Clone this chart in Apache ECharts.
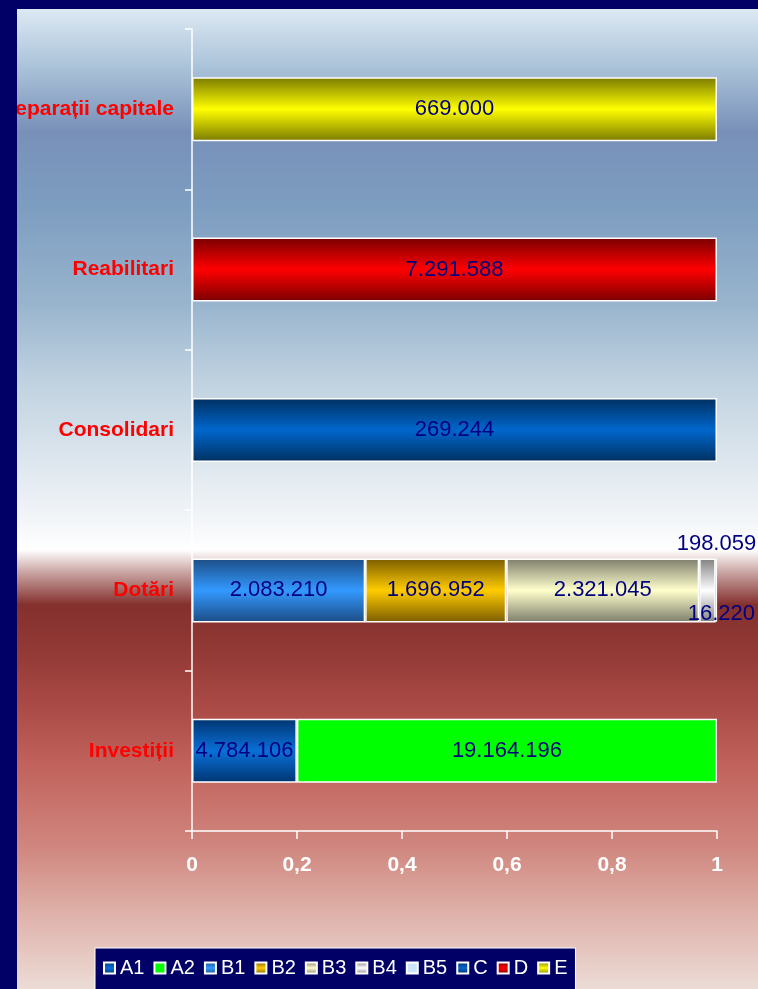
<!DOCTYPE html>
<html>
<head>
<meta charset="utf-8">
<script src="https://cdn.jsdelivr.net/npm/echarts@6/dist/echarts.min.js"></script>
<style>
  html, body { margin: 0; padding: 0; background: #000066; }
  #chart { width: 758px; height: 989px; }
</style>
</head>
<body>
<div id="chart"></div>
<script>
// categories, bottom to top
const categories = ["Investiții", "Dotări", "Consolidari", "Reabilitari", "Reparații capitale"];
const seriesNames = ["A1", "A2", "B1", "B2", "B3", "B4", "B5", "C", "D", "E"];

// raw values per series (one slot per category)
const A1 = [4784106, null, null, null, null];
const A2 = [19164196, null, null, null, null];
const B1 = [null, 2083210, null, null, null];
const B2 = [null, 1696952, null, null, null];
const B3 = [null, 2321045, null, null, null];
const B4 = [null, 198059, null, null, null];
const B5 = [null, 16220, null, null, null];
const C = [null, null, 269244, null, null];
const D = [null, null, null, 7291588, null];
const E = [null, null, null, null, 669000];

const xTicks = [0, 0.2, 0.4, 0.6, 0.8, 1];

const rawData = [A1, A2, B1, B2, B3, B4, B5, C, D, E];

// gradient stops: edge colour, middle colour
const barColors = [
  ["#003570", "#0a6fd8"],
  ["#00ff00", "#00ff00"],
  ["#1c4c84", "#3399ff"],
  ["#7a5c00", "#ffcc00"],
  ["#7d7d6c", "#ffffcc"],
  ["#808080", "#ffffff"],
  ["#cce8ff", "#cce8ff"],
  ["#003060", "#0066cc"],
  ["#7a0000", "#ff0000"],
  ["#7a7a00", "#ffff00"]
];

// totals per category for the 100% stack
const totals = categories.map((c, i) =>
  rawData.reduce((s, arr) => s + (arr[i] || 0), 0)
);

const fmt = (v) => String(v).replace(/\B(?=(\d{3})+(?!\d))/g, ".");

const grad = (edge, mid) => ({
  type: "linear", x: 0, y: 0, x2: 0, y2: 1,
  colorStops: [
    { offset: 0, color: edge },
    { offset: 0.5, color: mid },
    { offset: 1, color: edge }
  ]
});

const labelFont = { fontFamily: "Liberation Sans, Arial, sans-serif", fontSize: 22, color: "#000080" };

const series = seriesNames.map((name, k) => {
  const label = Object.assign({
    show: true,
    position: "inside",
    formatter: (p) => fmt(rawData[k][p.dataIndex])
  }, labelFont);
  if (name === "B4") {
    label.position = "top";
    label.distance = 3;
    label.offset = [9, 0];
  }
  if (name === "B5") {
    label.position = "inside";
    label.offset = [5, 24];
  }
  return {
    name: name,
    type: "bar",
    stack: "total",
    barWidth: 64,
    animation: false,
    data: rawData[k].map((v, i) => (v == null ? null : v / totals[i])),
    itemStyle: {
      color: grad(barColors[k][0], barColors[k][1]),
      borderColor: "#ffffff",
      borderWidth: 1.5
    },
    label: label,
    emphasis: { disabled: true }
  };
});

const myChart = echarts.init(document.getElementById("chart"));

const option = {
  backgroundColor: "#000066",
  textStyle: { fontFamily: "Liberation Sans, Arial, sans-serif" },
  graphic: [
    {
      type: "rect",
      z: -10,
      silent: true,
      shape: { x: 17, y: 9, width: 741, height: 980 },
      style: {
        fill: {
          type: "linear", x: 0, y: 0, x2: 0, y2: 1,
          colorStops: [
            { offset: 0, color: "#dce9f3" },
            { offset: 0.06, color: "#aac2d8" },
            { offset: 0.125, color: "#7890b8" },
            { offset: 0.2, color: "#7d9dc0" },
            { offset: 0.3, color: "#98b4cd" },
            { offset: 0.38, color: "#c0d2e0" },
            { offset: 0.52, color: "#f2f5f8" },
            { offset: 0.552, color: "#ffffff" },
            { offset: 0.575, color: "#c9a4a2" },
            { offset: 0.608, color: "#84302d" },
            { offset: 0.65, color: "#903834" },
            { offset: 0.705, color: "#a84844" },
            { offset: 0.766, color: "#c0605a" },
            { offset: 0.858, color: "#d08880" },
            { offset: 0.91, color: "#dcaaa2" },
            { offset: 1, color: "#ecdcd6" }
          ]
        }
      }
    },
    {
      type: "rect",
      z: 100,
      silent: true,
      shape: { x: 0, y: 0, width: 17, height: 989 },
      style: { fill: "#000066" }
    },
    {
      type: "rect",
      z: 100,
      silent: true,
      shape: { x: 0, y: 0, width: 758, height: 9 },
      style: { fill: "#000066" }
    }
  ],
  grid: { left: 192, right: 41, top: 29, bottom: 158, containLabel: false, outerBoundsMode: "none" },
  legend: {
    data: seriesNames,
    left: 95,
    top: 948,
    orient: "horizontal",
    icon: "rect",
    itemWidth: 11,
    itemHeight: 11,
    itemGap: 9,
    padding: [10, 8, 22, 8],
    backgroundColor: "#000066",
    borderColor: "#ffffff",
    borderWidth: 1,
    textStyle: { color: "#ffffff", fontSize: 20, fontFamily: "Liberation Sans, Arial, sans-serif" }
  },
  xAxis: {
    type: "value",
    min: 0,
    max: 1,
    interval: 0.2,
    splitLine: { show: false },
    axisLine: { show: true, lineStyle: { color: "#ffffff", width: 1.5 } },
    axisTick: { show: true, length: 8, lineStyle: { color: "#ffffff", width: 1.5 } },
    axisLabel: {
      color: "#ffffff",
      fontSize: 21,
      fontWeight: "bold",
      margin: 24,
      formatter: (v) => (xTicks.indexOf(v) >= 0 ? String(v).replace(".", ",") : "")
    }
  },
  yAxis: {
    type: "category",
    data: categories,
    axisLine: { show: true, lineStyle: { color: "#ffffff", width: 1.5 } },
    axisTick: { show: true, length: 7, lineStyle: { color: "#ffffff", width: 1.5 } },
    axisLabel: {
      color: "#ff0000",
      fontSize: 21,
      fontWeight: "bold",
      margin: 18
    }
  },
  series: series
};

myChart.setOption(option);
</script>
</body>
</html>
